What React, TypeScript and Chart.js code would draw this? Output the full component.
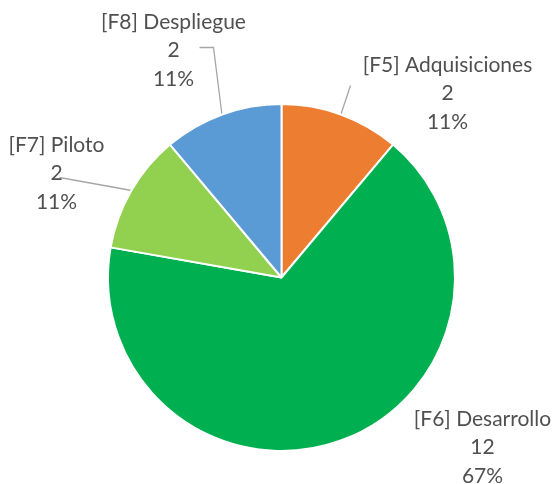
import React, { useEffect, useRef } from "react";
import { Chart, registerables } from "chart.js";

Chart.register(...registerables);

const categories = ["[F5] Adquisiciones", "[F6] Desarrollo", "[F7] Piloto", "[F8] Despliegue"];
const values = [2, 12, 2, 2];
const colors = ["#ED7D31", "#00B050", "#92D050", "#5B9BD5"];

// label placement (offset of label centre from pie centre, px) and optional leader start
const labelOffsets = [
  { dx: 166, dy: -184, leader: { dx: 69, dy: -192 } },
  { dx: 201, dy: 170, leader: null },
  { dx: -225, dy: -104, leader: { dx: -222, dy: -100 } },
  { dx: -108, dy: -227, leader: { dx: -82, dy: -230, bend: { dx: -68, dy: -230 } } },
];

const FONT = "21px Lato, 'Open Sans', sans-serif";
const LINE_H = 28.5;

const labelPlugin = {
  id: "pieLabels",
  afterDatasetsDraw(chart: any) {
    const ctx = chart.ctx;
    const meta = chart.getDatasetMeta(0);
    const data = chart.data.datasets[0].data as number[];
    const total = data.reduce((a: number, b: number) => a + b, 0);
    ctx.save();
    meta.data.forEach((arc: any, i: number) => {
      const { x, y, startAngle, endAngle, outerRadius } = arc.getProps(
        ["x", "y", "startAngle", "endAngle", "outerRadius"],
        true
      );
      const mid = (startAngle + endAngle) / 2;
      const off = labelOffsets[i];
      const lx = x + off.dx;
      const ly = y + off.dy;
      if (off.leader) {
        ctx.strokeStyle = "#A6A6A6";
        ctx.lineWidth = 1.3;
        ctx.beginPath();
        ctx.moveTo(x + off.leader.dx, y + off.leader.dy);
        const b = (off.leader as any).bend;
        if (b) ctx.lineTo(x + b.dx, y + b.dy);
        ctx.lineTo(x + Math.cos(mid) * (outerRadius + 1), y + Math.sin(mid) * (outerRadius + 1));
        ctx.stroke();
      }
      const lines = [
        categories[i],
        String(data[i]),
        Math.round((data[i] / total) * 100) + "%",
      ];
      ctx.fillStyle = "#505050";
      ctx.font = FONT;
      ctx.textAlign = "center";
      ctx.textBaseline = "middle";
      lines.forEach((t, k) => {
        ctx.fillText(t, lx, ly + (k - 1) * LINE_H);
      });
    });
    ctx.restore();
  },
};

export default function App() {
  const ref = useRef<HTMLCanvasElement | null>(null);
  useEffect(() => {
    document.body.style.margin = "0";
    const chart = new Chart(ref.current as HTMLCanvasElement, {
      type: "pie",
      data: {
        labels: categories,
        datasets: [
          {
            data: values,
            backgroundColor: colors,
            borderColor: "#FFFFFF",
            borderWidth: 2,
          },
        ],
      },
      options: {
        animation: false,
        responsive: false,
        layout: { padding: { top: 103, bottom: 32, left: 19, right: 10 } },
        plugins: {
          legend: { display: false },
          tooltip: { enabled: false },
        },
      },
      plugins: [labelPlugin],
    });
    return () => chart.destroy();
  }, []);
  return (
    <div style={{ position: "absolute", left: 0, top: 0, width: 554, height: 484, background: "#fff" }}>
      <canvas ref={ref} width={554} height={484} />
    </div>
  );
}
